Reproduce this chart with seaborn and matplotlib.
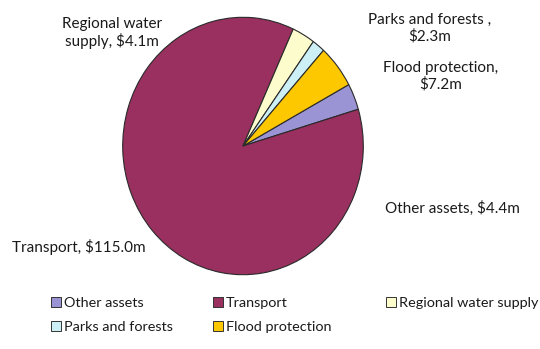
import matplotlib
matplotlib.use("Agg")
import matplotlib.pyplot as plt
import seaborn as sns
from matplotlib.patches import Patch

categories = ["Other assets", "Transport", "Regional water supply", "Parks and forests", "Flood protection"]
values = [4.4, 115.0, 4.1, 2.3, 7.2]
slice_labels = ["Other assets, $4.4m", "Transport, $115.0m", "Regional water\nsupply, $4.1m",
                "Parks and forests ,\n$2.3m", "Flood protection,\n$7.2m"]
colors = ["#9a94d4", "#99305f", "#fdfccd", "#cdeff6", "#fdc800"]

sns.set_theme(style="white")
plt.rcParams['font.family'] = ['Lato', 'DejaVu Sans']

W, H = 540, 349
fig = plt.figure(figsize=(W / 100, H / 100), dpi=100)
fig.patch.set_facecolor("white")

# pie axes (slightly taller than wide, as in the reference)
cx, cy, rx, ry = 243, 146, 121.5, 130
ax = fig.add_axes([(cx - rx) / W, (H - cy - ry) / H, 2 * rx / W, 2 * ry / H])
wedges, _ = ax.pie(values, colors=colors, startangle=28.5, counterclock=False,
                   wedgeprops=dict(edgecolor="#2a2a2a", linewidth=0.8))
ax.set_aspect("auto")
ax.set_xlim(-1.01, 1.01)
ax.set_ylim(-1.01, 1.01)
ax.axis("off")

# data labels (Excel-style positions)
label_pos = [(385, 208, "left"), (12, 247, "left"), (112, 33, "center"),
             (430, 28, "center"), (441, 76, "center")]
for txt, (x, y, ha) in zip(slice_labels, label_pos):
    fig.text(x / W, 1 - y / H, txt, ha=ha, va="center", fontsize=11,
             color="#1a1a1a", linespacing=1.2)

# legend laid out row-wise in three columns
col_x = [51, 213, 386]
row_y = [303, 327]
for i, (cat, col) in enumerate(zip(categories, colors)):
    r, c = divmod(i, 3)
    h = Patch(facecolor=col, edgecolor="#333333", linewidth=0.7)
    leg = fig.legend([h], [cat], loc="center left",
                     bbox_to_anchor=(col_x[c] / W, 1 - row_y[r] / H),
                     frameon=False, fontsize=10.4, handlelength=0.7, handleheight=0.7,
                     handletextpad=0.2, borderpad=0, borderaxespad=0)
    for t in leg.get_texts():
        t.set_color("#1a1a1a")

fig.savefig("out.png", dpi=100, facecolor="white")
